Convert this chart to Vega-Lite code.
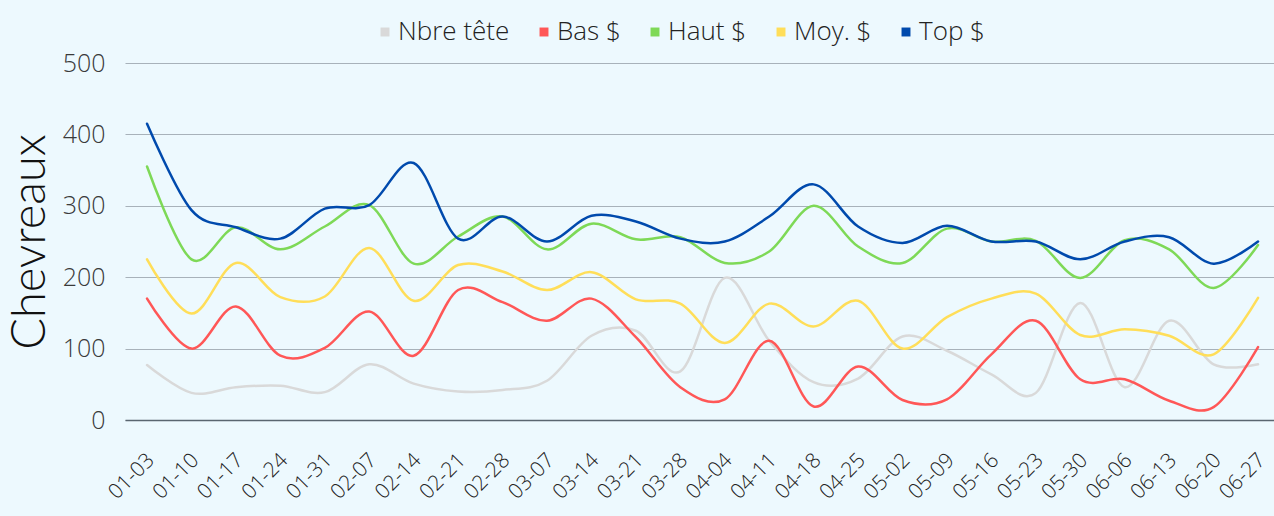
{
  "$schema": "https://vega.github.io/schema/vega-lite/v6.json",
  "width": 1149,
  "height": 357,
  "autosize": {"type": "none"},
  "padding": {"left": 125, "top": 63, "right": 0, "bottom": 96},
  "background": "#EDF9FE",
  "data": {
    "values": [
      {"date": "01-03", "nbre": 77, "bas": 170, "haut": 355, "moy": 225, "top": 415},
      {"date": "01-10", "nbre": 38, "bas": 100, "haut": 225, "moy": 149, "top": 294},
      {"date": "01-17", "nbre": 46, "bas": 159, "haut": 270, "moy": 220, "top": 270},
      {"date": "01-24", "nbre": 48, "bas": 90, "haut": 239, "moy": 172, "top": 254},
      {"date": "01-31", "nbre": 39, "bas": 101, "haut": 271, "moy": 173, "top": 296},
      {"date": "02-07", "nbre": 78, "bas": 152, "haut": 301, "moy": 241, "top": 301},
      {"date": "02-14", "nbre": 51, "bas": 90, "haut": 219, "moy": 167, "top": 360},
      {"date": "02-21", "nbre": 40, "bas": 182, "haut": 257, "moy": 217, "top": 254},
      {"date": "02-28", "nbre": 42, "bas": 165, "haut": 285, "moy": 208, "top": 285},
      {"date": "03-07", "nbre": 55, "bas": 139, "haut": 239, "moy": 182, "top": 250},
      {"date": "03-14", "nbre": 118, "bas": 170, "haut": 275, "moy": 207, "top": 286},
      {"date": "03-21", "nbre": 125, "bas": 116, "haut": 253, "moy": 169, "top": 278},
      {"date": "03-28", "nbre": 68, "bas": 46, "haut": 256, "moy": 163, "top": 254},
      {"date": "04-04", "nbre": 199, "bas": 29, "haut": 220, "moy": 108, "top": 250},
      {"date": "04-11", "nbre": 111, "bas": 111, "haut": 236, "moy": 163, "top": 285},
      {"date": "04-18", "nbre": 53, "bas": 19, "haut": 300, "moy": 131, "top": 330},
      {"date": "04-25", "nbre": 58, "bas": 75, "haut": 243, "moy": 167, "top": 271},
      {"date": "05-02", "nbre": 117, "bas": 28, "haut": 220, "moy": 100, "top": 248},
      {"date": "05-09", "nbre": 97, "bas": 29, "haut": 268, "moy": 144, "top": 272},
      {"date": "05-16", "nbre": 64, "bas": 92, "haut": 250, "moy": 170, "top": 250},
      {"date": "05-23", "nbre": 38, "bas": 139, "haut": 251, "moy": 177, "top": 250},
      {"date": "05-30", "nbre": 164, "bas": 57, "haut": 199, "moy": 119, "top": 225},
      {"date": "06-06", "nbre": 46, "bas": 57, "haut": 252, "moy": 127, "top": 250},
      {"date": "06-13", "nbre": 139, "bas": 27, "haut": 239, "moy": 118, "top": 256},
      {"date": "06-20", "nbre": 78, "bas": 18, "haut": 185, "moy": 92, "top": 219},
      {"date": "06-27", "nbre": 78, "bas": 102, "haut": 245, "moy": 171, "top": 250}
    ]
  },
  "transform": [
    {"fold": ["nbre", "bas", "haut", "moy", "top"], "as": ["serie", "valeur"]}
  ],
  "mark": {"type": "line", "interpolate": "cardinal", "strokeWidth": 2.5, "strokeCap": "round"},
  "encoding": {
    "x": {
      "field": "date",
      "type": "ordinal",
      "sort": null,
      "scale": {"type": "point", "padding": 0.4275, "align": 0.58},
      "axis": {
        "title": null,
        "labelAngle": -45,
        "labelFont": "Open Sans",
        "labelFontSize": 21,
        "labelFontWeight": 300,
        "labelColor": "#222222",
        "labelPadding": 29,
        "labelOffset": -4,
        "ticks": false,
        "domainColor": "#5A6670",
        "domainWidth": 1.5,
        "grid": false
      }
    },
    "y": {
      "field": "valeur",
      "type": "quantitative",
      "scale": {"domain": [0, 500], "nice": false},
      "axis": {
        "title": "Chevreaux",
        "titleFont": "Lato",
        "titleFontWeight": 300,
        "titleFontSize": 47,
        "titleColor": "#111111",
        "titlePadding": 8,
        "values": [0, 100, 200, 300, 400, 500],
        "labelFont": "Open Sans",
        "labelFontSize": 25,
        "labelFontWeight": 300,
        "labelColor": "#3A3A3A",
        "labelPadding": 20,
        "ticks": false,
        "domain": false,
        "grid": true,
        "gridColor": "#A8B2BA",
        "gridWidth": 1.2
      }
    },
    "color": {
      "field": "serie",
      "type": "nominal",
      "scale": {
        "domain": ["nbre", "bas", "haut", "moy", "top"],
        "range": ["#D9D9D9", "#FF5757", "#7ED957", "#FFDE59", "#004AAD"]
      },
      "legend": {
        "title": null,
        "orient": "none",
        "direction": "horizontal",
        "legendX": 247,
        "legendY": -44,
        "symbolType": "square",
        "symbolSize": 80,
        "symbolStrokeWidth": 0,
        "labelExpr": "{'nbre': 'Nbre tête', 'bas': 'Bas $', 'haut': 'Haut $', 'moy': 'Moy. $', 'top': 'Top $'}[datum.value]",
        "labelFont": "Open Sans",
        "labelFontSize": 26,
        "labelFontWeight": 300,
        "labelColor": "#222222",
        "labelOffset": 0,
        "columnPadding": 21,
        "encode": {
          "symbols": {"update": {"fill": {"scale": "color", "field": "value"}, "fillOpacity": {"value": 1}}}
        }
      }
    }
  },
  "config": {"view": {"stroke": null}}
}
